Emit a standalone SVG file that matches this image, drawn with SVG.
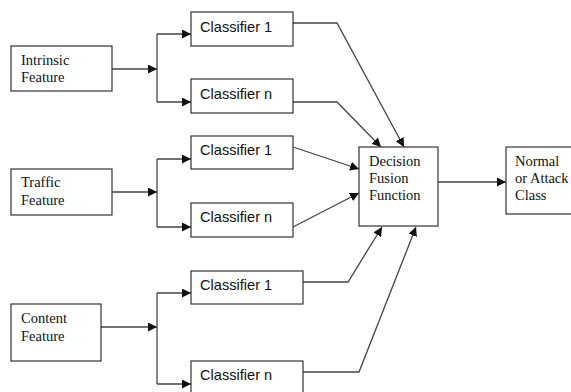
<svg xmlns="http://www.w3.org/2000/svg" width="571" height="392" viewBox="0 0 571 392">
<defs>
<marker id="ah" viewBox="0 0 10 10" refX="10" refY="5" markerWidth="9" markerHeight="9" markerUnits="userSpaceOnUse" orient="auto">
<path d="M0,0 L10,5 L0,10 z" fill="#111"/>
</marker>
</defs>
<style>
.box{fill:#fff;stroke:#333;stroke-width:1.2}
.serif{font-family:"Liberation Serif","Times New Roman",serif;font-size:14.5px;fill:#111}
.sans{font-family:"Liberation Sans",Arial,sans-serif;font-size:14.6px;fill:#111}
.ln{fill:none;stroke:#444;stroke-width:1.3}
.arr{fill:none;stroke:#444;stroke-width:1.3;marker-end:url(#ah)}
</style>
<rect width="571" height="392" fill="#fff"/>
<g id="connectors">
<path class="arr" d="M112,69 H157"/>
<path class="ln" d="M157,34 V102"/>
<path class="arr" d="M157,34 H191"/>
<path class="arr" d="M157,102 H191"/>
<path class="arr" d="M112,192 H157"/>
<path class="ln" d="M157,159 V227"/>
<path class="arr" d="M157,159 H191"/>
<path class="arr" d="M157,227 H191"/>
<path class="arr" d="M101,327 H157"/>
<path class="ln" d="M157,293 V384"/>
<path class="arr" d="M157,293 H191"/>
<path class="arr" d="M157,384 H191"/>
<path class="arr" d="M293,23 H337 L404,147"/>
<path class="arr" d="M293,102 H337 L381,147"/>
<path class="arr" d="M293,147 L359,169"/>
<path class="arr" d="M293,227 L359,193"/>
<path class="arr" d="M303,282 H348 L382,227"/>
<path class="arr" d="M303,372 H359 L416,227"/>
<path class="arr" d="M438,182 H506"/>
</g>
<g id="intrinsic">
<rect class="box" x="11" y="46" width="101" height="45"/>
<text class="serif" x="21" y="65">Intrinsic</text>
<text class="serif" x="21" y="82">Feature</text>
</g>
<g id="traffic">
<rect class="box" x="11" y="169" width="101" height="46"/>
<text class="serif" x="21" y="187">Traffic</text>
<text class="serif" x="21" y="205">Feature</text>
</g>
<g id="content">
<rect class="box" x="11" y="304" width="90" height="57"/>
<text class="serif" x="21" y="323">Content</text>
<text class="serif" x="21" y="341">Feature</text>
</g>
<g id="c1a">
<rect class="box" x="191" y="12" width="102" height="34"/>
<text class="sans" x="200" y="32">Classifier 1</text>
</g>
<g id="cna">
<rect class="box" x="191" y="79" width="102" height="34"/>
<text class="sans" x="200" y="99">Classifier n</text>
</g>
<g id="c1b">
<rect class="box" x="191" y="136" width="102" height="33"/>
<text class="sans" x="200" y="155">Classifier 1</text>
</g>
<g id="cnb">
<rect class="box" x="191" y="203" width="102" height="34"/>
<text class="sans" x="200" y="222">Classifier n</text>
</g>
<g id="c1c">
<rect class="box" x="191" y="271" width="112" height="33"/>
<text class="sans" x="200" y="290">Classifier 1</text>
</g>
<g id="cnc">
<rect class="box" x="191" y="361" width="112" height="40"/>
<text class="sans" x="200" y="380">Classifier n</text>
</g>
<g id="fusion">
<rect class="box" x="359" y="147" width="79" height="79"/>
<text class="serif" x="369" y="166">Decision</text>
<text class="serif" x="369" y="183">Fusion</text>
<text class="serif" x="369" y="200">Function</text>
</g>
<g id="output">
<rect class="box" x="506" y="147" width="75" height="67"/>
<text class="serif" x="515" y="166">Normal</text>
<text class="serif" x="515" y="183">or Attack</text>
<text class="serif" x="515" y="200">Class</text>
</g>
</svg>
